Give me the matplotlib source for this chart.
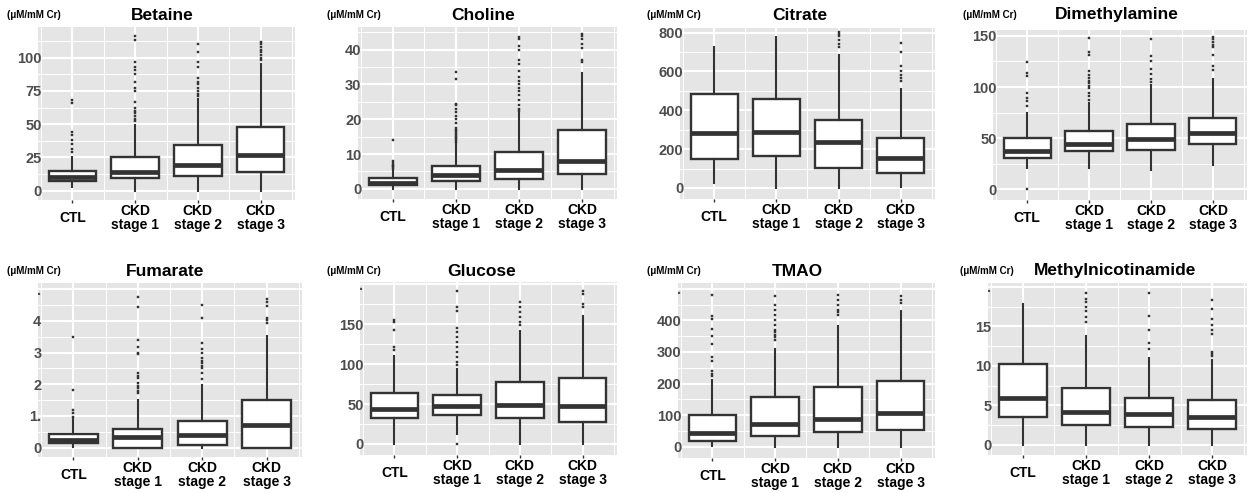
import matplotlib
matplotlib.use("Agg")
import matplotlib.pyplot as plt

plt.rcParams['font.family'] = ['Liberation Sans', 'DejaVu Sans']

groups = ["CTL", "CKD\nstage 1", "CKD\nstage 2", "CKD\nstage 3"]
unit_label = "(\u03bcM/mM Cr)"

# ---------------- data (box stats per group: CTL, stage1, stage2, stage3) -------------
betaine_lo = [3, 0, 0, 0]
betaine_q1 = [7, 9.3, 11, 14.3]
betaine_med = [10.5, 14.3, 19, 27]
betaine_q3 = [14.8, 25.5, 34, 47.5]
betaine_hi = [25, 49, 69, 95.5]
betaine_out = [[29, 31, 35, 38, 42, 44, 66, 68],
               [52, 54, 56, 58, 60, 62, 67, 75, 77, 82, 88, 91, 93, 97, 113, 116],
               [71, 73, 75, 77, 80, 82, 85, 93, 97, 104, 110],
               [98, 100, 102, 104, 106, 108, 110, 112]]

choline_lo = [0, 0, 0, 0]
choline_q1 = [1.0, 2.2, 2.9, 4.3]
choline_med = [1.7, 4.1, 5.3, 7.9]
choline_q3 = [3.1, 6.5, 10.6, 17]
choline_hi = [5.5, 13.1, 21.7, 33.3]
choline_out = [[5.8, 6.2, 6.6, 7, 7.5, 8, 14.1],
               [13.5, 14, 14.5, 15, 15.5, 16, 16.5, 17, 17.5, 19, 20, 21, 22, 23, 24, 24.5, 31.7, 33.6],
               [22.5, 23, 24, 25.5, 27, 28, 29, 30, 31, 32, 34, 36, 37, 40, 41, 43, 43.5],
               [36.5, 37, 40.5, 41.5, 43, 44, 44.5]]

citrate_lo = [26, 0, 0, 5]
citrate_q1 = [151, 163, 103, 77]
citrate_med = [283, 287, 235, 155]
citrate_q3 = [486, 460, 352, 258]
citrate_hi = [724, 776, 687, 510]
citrate_out = [[],
               [],
               [725, 740, 760, 785, 795, 805],
               [549, 567, 584, 601, 630, 700, 747]]

dma_lo = [20.5, 20.5, 19, 24]
dma_q1 = [30.3, 37.5, 38.4, 44]
dma_med = [37.5, 44.3, 48.9, 54.7]
dma_q3 = [49.8, 57, 63.8, 70]
dma_hi = [75, 84, 102, 108]
dma_out = [[0, 81, 86, 89, 94, 111, 114, 124],
           [87, 91, 94, 99, 101, 104, 106, 109, 112, 116, 131, 134, 148],
           [105, 108, 113, 118, 125, 130, 147],
           [117, 121, 131, 139, 141, 144, 147, 149]]

fumarate_lo = [0.02, 0, 0, 0]
fumarate_q1 = [0.15, 0, 0.07, 0]
fumarate_med = [0.25, 0.32, 0.41, 0.71]
fumarate_q3 = [0.42, 0.6, 0.84, 1.5]
fumarate_hi = [0.92, 1.5, 1.98, 3.51]
fumarate_out = [[0.97, 1.08, 1.2, 1.82, 3.49],
                [1.71, 1.79, 1.87, 1.95, 2.03, 2.19, 2.27, 2.35, 2.96, 3.0, 3.17, 3.41, 4.44, 4.75],
                [2.16, 2.35, 2.5, 2.59, 2.67, 2.75, 2.83, 2.98, 3.11, 3.3, 4.1, 4.52],
                [3.92, 4.02, 4.1, 4.47, 4.6, 4.68]]

glucose_lo = [0, 12, 0, 0]
glucose_q1 = [32, 36, 33, 27]
glucose_med = [43.8, 47.5, 49, 48]
glucose_q3 = [64, 61, 78, 83]
glucose_hi = [110, 94.6, 141, 161]
glucose_out = [[118, 121, 143, 153, 155],
               [0, 99, 103, 109, 115, 122, 128, 134, 140, 145, 167, 172, 192],
               [149, 153, 159, 165, 172, 178],
               [172, 175, 188, 192]]

tmao_lo = [2, 0, 0, 0]
tmao_q1 = [18, 36, 46, 52]
tmao_med = [44, 74, 88, 107]
tmao_q3 = [102, 157, 188, 207]
tmao_hi = [213, 310, 383, 430]
tmao_out = [[223, 231, 239, 271, 284, 326, 349, 374, 405, 415, 481],
            [339, 347, 355, 363, 371, 386, 402, 418, 434, 449, 476],
            [418, 426, 434, 449, 465, 481],
            [455, 465, 476]]

mna_lo = [0, 0, 0, 0]
mna_q1 = [3.6, 2.5, 2.3, 2.0]
mna_med = [6.0, 4.2, 3.9, 3.6]
mna_q3 = [10.2, 7.2, 5.9, 5.7]
mna_hi = [17.8, 13.8, 11.0, 10.8]
mna_out = [[],
           [15.6, 16.2, 16.9, 17.5, 18.1, 18.5, 19.2],
           [12.2, 12.9, 14.6, 16.3, 19.2],
           [11.2, 11.5, 11.8, 14.1, 14.6, 15.2, 16.0, 17.2, 18.4]]

titles = ["Betaine", "Choline", "Citrate", "Dimethylamine",
          "Fumarate", "Glucose", "TMAO", "Methylnicotinamide"]

# ---------------- layout helpers ----------------
W, H = 1248, 493
fig = plt.figure(figsize=(W / 100, H / 100), dpi=100)
fig.patch.set_facecolor('white')


def px_axes(left, top, right, bottom):
    return fig.add_axes([left / W, 1 - bottom / H, (right - left) / W, (bottom - top) / H])


panels = [
    # (data, rect px, ylim, major ticks, labels, minor ticks, title pos, unit pos)
    ((betaine_lo, betaine_q1, betaine_med, betaine_q3, betaine_hi, betaine_out),
     (38, 27, 295, 200), (-7, 123), [0, 25, 50, 75, 100], ["0", "25", "50", "75", "100"],
     [12.5, 37.5, 62.5, 87.5, 112.5], (162, 15), (7, 15)),
    ((choline_lo, choline_q1, choline_med, choline_q3, choline_hi, choline_out),
     (358, 27, 617, 199), (-2.9, 46.5), [0, 10, 20, 30, 40], ["0", "10", "20", "30", "40"],
     [5, 15, 25, 35, 45], (483, 15), (327, 15)),
    ((citrate_lo, citrate_q1, citrate_med, citrate_q3, citrate_hi, citrate_out),
     (680, 28, 935, 199), (-57, 824), [0, 200, 400, 600, 800], ["0", "200", "400", "600", "800"],
     [100, 300, 500, 700], (800, 15), (647, 15)),
    ((dma_lo, dma_q1, dma_med, dma_q3, dma_hi, dma_out),
     (993, 30, 1247, 200), (-10.4, 155.7), [0, 50, 100, 150], ["0", "50", "100", "150"],
     [25, 75, 125], (1117, 15), (963, 15)),
    ((fumarate_lo, fumarate_q1, fumarate_med, fumarate_q3, fumarate_hi, fumarate_out),
     (38, 283, 302, 457), (-0.3, 5.2), [0, 1, 2, 3, 4, 5], ["0", "1.", "2", "3", "4", "."],
     [0.5, 1.5, 2.5, 3.5, 4.5], (165, 271), (7, 271)),
    ((glucose_lo, glucose_q1, glucose_med, glucose_q3, glucose_hi, glucose_out),
     (360, 282, 617, 455), (-13.8, 203), [0, 50, 100, 150, 200], ["0", "50", "100", "150", "."],
     [25, 75, 125, 175], (482, 271), (327, 271)),
    ((tmao_lo, tmao_q1, tmao_med, tmao_q3, tmao_hi, tmao_out),
     (678, 283, 935, 458), (-35, 518), [0, 100, 200, 300, 400, 500], ["0", "100", "200", "300", "400", "."],
     [50, 150, 250, 350, 450], (797, 271), (647, 271)),
    ((mna_lo, mna_q1, mna_med, mna_q3, mna_hi, mna_out),
     (988, 283, 1247, 455), (-1.27, 20.5), [0, 5, 10, 15, 20], ["0", "5", "10", "15", "."],
     [2.5, 7.5, 12.5, 17.5], (1115, 271), (960, 271)),
]

dark = '#333333'
positions = [1, 2, 3, 4]

for (data, rect, ylim, yt, ytl, ymin, tpos, upos), title in zip(panels, titles):
    lo, q1, med, q3, hi, out = data
    ax = px_axes(*rect)
    ax.set_facecolor('#E5E5E5')
    for s in ax.spines.values():
        s.set_visible(False)
    ax.set_axisbelow(True)

    stats = []
    for i in range(4):
        stats.append(dict(whislo=lo[i], q1=q1[i], med=med[i], q3=q3[i],
                          whishi=hi[i], fliers=out[i], label=groups[i]))
    ax.bxp(stats, positions=positions, widths=0.76, showcaps=False, patch_artist=True,
           boxprops=dict(facecolor='white', edgecolor=dark, linewidth=1.7),
           medianprops=dict(color=dark, linewidth=3.4, solid_capstyle='butt'),
           whiskerprops=dict(color=dark, linewidth=1.5),
           flierprops=dict(marker='s', markersize=1.8, markerfacecolor=dark,
                           markeredgecolor=dark, markeredgewidth=0.3, linestyle='none'),
           zorder=3)

    ax.set_xlim(0.45, 4.55)
    ax.set_ylim(*ylim)
    ax.set_yticks(yt)
    ax.set_yticklabels(ytl)
    ax.set_yticks(ymin, minor=True)
    ax.set_xticks(positions)
    ax.set_xticks([0.5, 1.5, 2.5, 3.5, 4.5], minor=True)
    ax.set_xticklabels(groups)

    ax.grid(which='major', color='white', linewidth=1.5, zorder=0)
    ax.grid(which='minor', color='white', linewidth=0.75, zorder=0)

    ax.tick_params(axis='x', which='major', length=2.5, width=1, color=dark, pad=10.5,
                   labelsize=10)
    ax.tick_params(axis='x', which='minor', length=0)
    ax.tick_params(axis='y', which='both', length=0, pad=-2.5, labelsize=10.5,
                   labelcolor='#4D4D4D')
    for lab in ax.get_xticklabels():
        lab.set_fontweight('bold')
        lab.set_verticalalignment('center')
        lab.set_linespacing(0.92)
        lab.set_color('black')
    for lab in ax.get_yticklabels():
        lab.set_fontweight('bold')

    fig.text(tpos[0] / W, 1 - tpos[1] / H, title, ha='center', va='center',
             fontsize=12.5, fontweight='bold', color='black')
    fig.text(upos[0] / W, 1 - upos[1] / H, unit_label, ha='left', va='center',
             fontsize=7, fontweight='bold', color='black')

fig.savefig('out.png', dpi=100, facecolor='white')
